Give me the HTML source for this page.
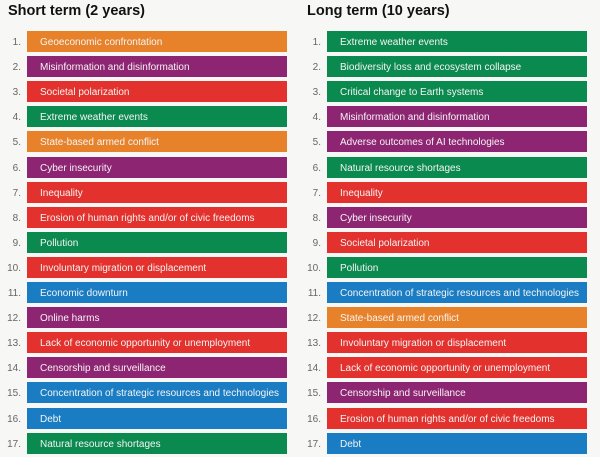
<!DOCTYPE html>
<html><head><style>
body{margin:0;width:600px;height:450px;overflow:hidden;background:#f7f7f6;font-family:"Liberation Sans",sans-serif;position:relative}
.t{position:absolute;top:3px;font-size:14.5px;font-weight:bold;color:#111}
.n{position:absolute;width:30px;text-align:right;font-size:10px;color:#666;line-height:24px}
.b{position:absolute;width:260px;height:21px;line-height:23px;font-size:10px;color:#f4f4f4;padding-left:13px;box-sizing:border-box;white-space:nowrap;overflow:hidden}
.o{background:#e8822a}.p{background:#8e2572}.r{background:#e3312d}.g{background:#0b8a4f}.u{background:#1a7dc4}
</style></head><body>
<div class="t" style="left:8px">Short term (2 years)</div>
<div class="t" style="left:307px">Long term (10 years)</div>
<div id="c"></div>
<script>
const L=[["o","Geoeconomic confrontation"],["p","Misinformation and disinformation"],["r","Societal polarization"],["g","Extreme weather events"],["o","State-based armed conflict"],["p","Cyber insecurity"],["r","Inequality"],["r","Erosion of human rights and/or of civic freedoms"],["g","Pollution"],["r","Involuntary migration or displacement"],["u","Economic downturn"],["p","Online harms"],["r","Lack of economic opportunity or unemployment"],["p","Censorship and surveillance"],["u","Concentration of strategic resources and technologies"],["u","Debt"],["g","Natural resource shortages"]];
const R=[["g","Extreme weather events"],["g","Biodiversity loss and ecosystem collapse"],["g","Critical change to Earth systems"],["p","Misinformation and disinformation"],["p","Adverse outcomes of AI technologies"],["g","Natural resource shortages"],["r","Inequality"],["p","Cyber insecurity"],["r","Societal polarization"],["g","Pollution"],["u","Concentration of strategic resources and technologies"],["o","State-based armed conflict"],["r","Involuntary migration or displacement"],["r","Lack of economic opportunity or unemployment"],["p","Censorship and surveillance"],["r","Erosion of human rights and/or of civic freedoms"],["u","Debt"]];
let h="";
function col(a,x){a.forEach((d,i)=>{const y=31+i*25.1;
h+=`<div class="n" style="left:${x-36}px;top:${y}px">${i+1}.</div><div class="b ${d[0]}" style="left:${x}px;top:${y}px">${d[1]}</div>`;});}
col(L,27);col(R,327);
document.getElementById("c").innerHTML=h;
</script>
</body></html>
